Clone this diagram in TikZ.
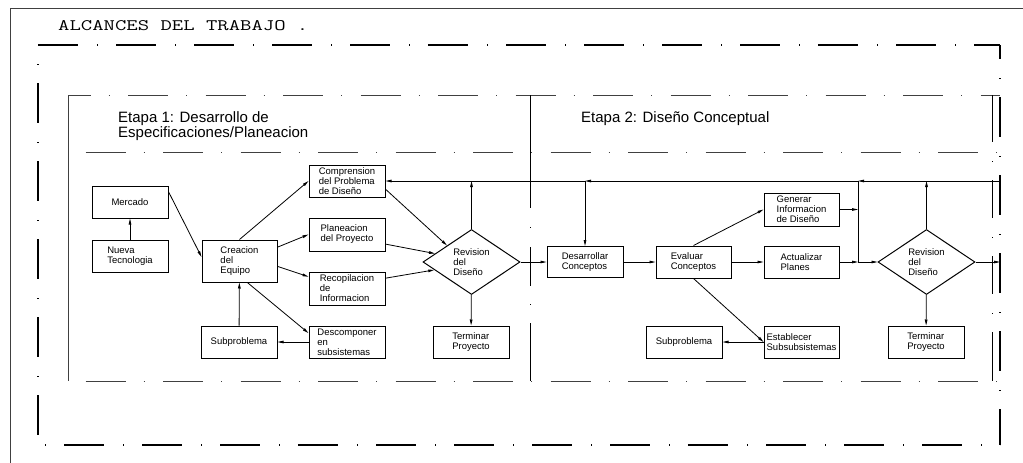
\documentclass[tikz,border=0pt]{standalone}
\usepackage{fontspec}
\usepackage{graphicx}
\setmainfont{Liberation Sans}
\usetikzlibrary{arrows.meta,shapes.geometric}

\begin{document}
\begin{tikzpicture}[x=1pt,y=-1pt,
        box/.style={draw, line width=1pt, minimum width=76pt, minimum height=32pt, inner sep=1pt, align=left, font=\fontsize{9.5}{10}\selectfont},
        decision/.style={draw, diamond, line width=1pt, minimum width=97pt, minimum height=65pt, aspect=1.5, inner sep=0pt, align=left, font=\fontsize{9.5}{10}\selectfont},
        arr/.style={line width=0.8pt, -{Triangle[length=6pt,width=2.6pt]}},
        outerline/.style={line width=2pt, dash pattern=on 40pt off 19pt on 1pt off 18pt},
        innerline/.style={line width=1pt, black!75, dash pattern=on 40pt off 18pt on 1pt off 18.5pt},
        stagetext/.style={anchor=base west, inner sep=0pt, font=\fontsize{15}{15}\selectfont}]
        \useasboundingbox (0,0) rectangle (1023,463);

        \draw[line width=1pt, black!75] (10,463) -- (10,8) -- (1023,8);
        \node[anchor=base west, inner sep=0pt, font=\fontsize{16}{18}\ttfamily] (title) at (58,30) {\scalebox{1.38}[1]{ALCANCES DEL TRABAJO .}};

        \draw[outerline] (38,45) -- (1000,45);
        \draw[outerline, dash phase=26pt] (1000,45) -- (1000,445);
        \draw[outerline, dash phase=40pt] (38,45) -- (38,445);
        \draw[outerline, dash phase=52pt] (38,445) -- (1000,445);

        \draw[line width=1pt, black!75] (68,95) -- (68,381);
        \draw[innerline, dash phase=17.5pt] (68,95) -- (1000,95);
        \draw[innerline, dash phase=60pt] (68,152) -- (1000,152);
        \draw[innerline, dash phase=60pt] (68,381) -- (1000,381);
        \draw[line width=1pt, dash pattern=on 113pt off 19pt on 1pt off 19pt on 39pt off 18pt on 1pt off 18pt on 60pt] (530,95) -- (530,381);
        \draw[line width=1pt, dash pattern=on 47pt off 19pt on 1pt off 18pt on 38pt off 19pt on 1pt off 18pt on 38pt off 19pt on 1pt off 18pt on 50pt] (992,95) -- (992,381);

        \node[stagetext, align=left, anchor=north west] (stage1) at (118,111.5) {Etapa 1: Desarrollo de\\Especificaciones/Planeacion};
        \node[stagetext] (stage2) at (581,122) {Etapa 2: Diseño Conceptual};

        \node[box] (mercado) at (130,202) {Mercado};
        \node[box] (nueva) at (130,256) {Nueva\\Tecnologia};
        \node[box, minimum width=75pt, minimum height=42pt] (creacion) at (239.5,261) {Creacion\\del\\Equipo};
        \node[box] (comprension) at (347,181) {Comprension\\del Problema\\de Diseño};
        \node[box, minimum height=33pt] (planeacion) at (347,234.5) {Planeacion\\del Proyecto};
        \node[box, minimum height=33pt] (recopilacion) at (347,288.5) {Recopilacion\\de\\Informacion};
        \node[box] (descomponer) at (347,342) {Descomponer\\en\\subsistemas};
        \node[box] (subproblema1) at (239,342) {Subproblema};
        \node[decision] (revision1) at (471.5,262) {Revision\\del\\Diseño};
        \node[box] (terminar1) at (471,342) {Terminar\\Proyecto};
        \node[box, minimum height=31pt] (desarrollar) at (585,262) {Desarrollar\\Conceptos};
        \node[box, minimum width=75pt] (evaluar) at (693.5,262) {Evaluar\\Conceptos};
        \node[box, minimum width=75pt, minimum height=33pt] (generar) at (801.5,209.5) {Generar\\Informacion\\de Diseño};
        \node[box, minimum width=75pt] (actualizar) at (801.5,262) {Actualizar\\Planes};
        \node[box, minimum width=75pt] (establecer) at (801.5,342) {Establecer\\Subsubsistemas};
        \node[box] (subproblema2) at (684,342) {Subproblema};
        \node[decision] (revision2) at (926.5,262) {Revision\\del\\Diseño};
        \node[box] (terminar2) at (926,342) {Terminar\\Proyecto};

        \coordinate (fbright) at (1000,181);
        \coordinate (fbjoin) at (858,181);
        \coordinate (fbsplit) at (585,181);
        \coordinate (merge) at (858,262);
        \coordinate (exit) at (1000,262);

        \draw[arr] (nueva) -- (mercado);
        \draw[arr] (mercado.15) -- (creacion.174);
        \draw[arr] (creacion.north) -- (comprension.west);
        \draw[arr] (creacion.20) -- (planeacion.west);
        \draw[arr] (creacion.-8) -- (recopilacion.163);
        \draw[arr] (creacion.-70) -- (descomponer.167);
        \draw[arr] (descomponer) -- (subproblema1);
        \draw[arr] (subproblema1) -- (creacion);
        \draw[arr] (comprension.-12) -- (revision1.146);
        \draw[arr] (planeacion.-14) -- (revision1.167);
        \draw[arr] (recopilacion.15) -- (revision1.192);
        \draw[arr] (revision1) -- (terminar1);
        \draw[arr] (revision1) -- (desarrollar);
        \draw[arr] (revision1.north) -- (revision1.north |- fbright);

        \draw[arr] (fbright) -- (fbjoin);
        \draw[arr] (fbjoin) -- (fbsplit);
        \draw[arr] (fbsplit) -- (comprension.east);
        \draw[arr] (fbsplit) -- (desarrollar.north);

        \draw[arr] (desarrollar) -- (evaluar);
        \draw[arr] (evaluar.north) -- (generar.west);
        \draw[arr] (evaluar) -- (actualizar);
        \draw[arr] (evaluar.south) -- (establecer.west);
        \draw[arr] (establecer) -- (subproblema2);
        \draw[arr] (generar.east) -- (generar.east -| merge);
        \draw[arr] (actualizar) -- (merge);
        \draw (merge) -- (fbjoin);
        \draw[arr] (merge) -- (revision2.west);
        \draw[arr] (revision2.north) -- (revision2.north |- fbright);
        \draw[arr] (revision2) -- (terminar2);
        \draw[arr] (revision2.east) -- (exit);

    \end{tikzpicture}
\end{document}
